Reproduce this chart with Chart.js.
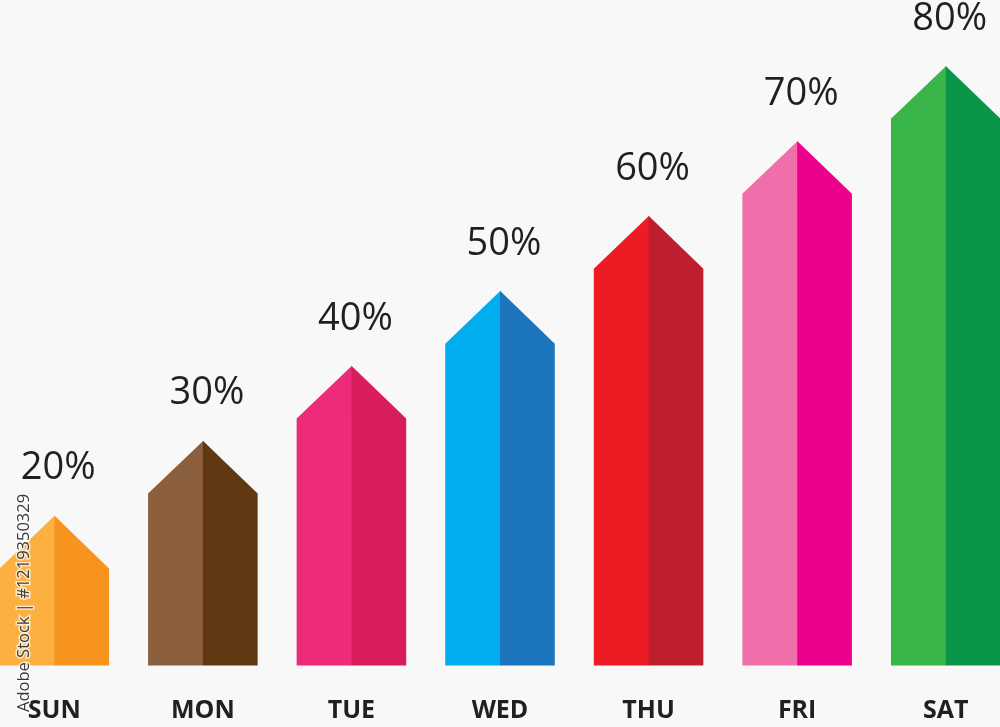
<!DOCTYPE html>
<html>
<head>
<meta charset="utf-8">
<script src="https://cdn.jsdelivr.net/npm/chart.js@4"></script>
<style>
  html, body { margin: 0; padding: 0; background: #f8f8f8; overflow: hidden; width: 1000px; height: 727px; }
  #wrap { position: absolute; left: -20px; top: 0; width: 1040px; height: 727px; }
</style>
</head>
<body>
<div id="wrap"><canvas id="c"></canvas></div>
<script>
const days = ['SUN', 'MON', 'TUE', 'WED', 'THU', 'FRI', 'SAT'];
const percentValues = [20, 30, 40, 50, 60, 70, 80];
const leftColors  = ['#FBB040', '#8B5E3C', '#EE2A7B', '#00AEEF', '#ED1C24', '#F06EA9', '#39B54A'];
const rightColors = ['#F7941D', '#603913', '#D91C5C', '#1C75BC', '#BE1E2D', '#EC008C', '#0A9648'];
const stockId = 'Adobe Stock | #1219350329';

const arrowPlugin = {
  id: 'arrowBars',
  afterDatasetsDraw(chart) {
    const ctx = chart.ctx;
    const meta = chart.getDatasetMeta(0);
    meta.data.forEach((bar, i) => {
      const x = bar.x, y = bar.y, base = bar.base, hw = bar.width / 2;
      const shoulder = y + hw * 0.965;
      ctx.save();
      ctx.fillStyle = leftColors[i];
      ctx.beginPath();
      ctx.moveTo(x - hw, base);
      ctx.lineTo(x - hw, shoulder);
      ctx.lineTo(x + 0.5, y);
      ctx.lineTo(x + 0.5, base);
      ctx.closePath();
      ctx.fill();
      ctx.fillStyle = rightColors[i];
      ctx.beginPath();
      ctx.moveTo(x, base);
      ctx.lineTo(x, y);
      ctx.lineTo(x + hw, shoulder);
      ctx.lineTo(x + hw, base);
      ctx.closePath();
      ctx.fill();
      ctx.fillStyle = '#231F20';
      ctx.font = '38px "Open Sans"';
      ctx.textAlign = 'center';
      ctx.textBaseline = 'middle';
      ctx.fillText(percentValues[i] + '%', x + 4, y - 47);
      ctx.restore();
    });
  },
  afterDraw(chart) {
    const ctx = chart.ctx;
    ctx.save();
    ctx.translate(20 + 29, 712);
    ctx.rotate(-Math.PI / 2);
    ctx.font = '500 16.5px "Open Sans"';
    ctx.textAlign = 'left';
    ctx.textBaseline = 'alphabetic';
    ctx.lineWidth = 3;
    ctx.strokeStyle = 'rgba(255,255,255,0.7)';
    ctx.strokeText(stockId, 0, 0);
    ctx.fillStyle = '#3a3a3a';
    ctx.fillText(stockId, 0, 0);
    ctx.restore();
  }
};

new Chart(document.getElementById('c'), {
  type: 'bar',
  data: {
    labels: days,
    datasets: [{
      data: percentValues,
      backgroundColor: 'rgba(0,0,0,0)',
      borderWidth: 0,
      categoryPercentage: 1,
      barPercentage: 0.7374
    }]
  },
  options: {
    responsive: true,
    maintainAspectRatio: false,
    animation: false,
    layout: { padding: 0 },
    plugins: { legend: { display: false }, tooltip: { enabled: false } },
    scales: {
      y: { display: false, min: 0, max: 88.8 },
      x: {
        grid: { display: false, drawTicks: false },
        border: { display: false },
        ticks: {
          padding: 30,
          color: '#231F20',
          font: { family: '"Open Sans"', size: 25, weight: 700 }
        },
        afterFit(scale) { scale.height = 61.5; }
      }
    }
  },
  plugins: [arrowPlugin]
});
</script>
</body>
</html>
